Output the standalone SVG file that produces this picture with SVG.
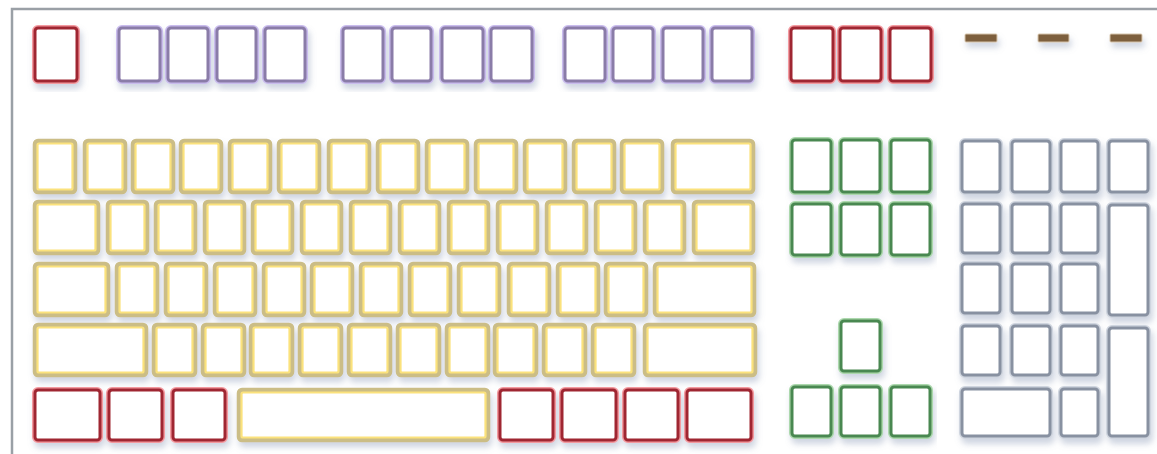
<svg xmlns="http://www.w3.org/2000/svg" width="1157" height="454" viewBox="0 0 1157 454">
<defs>
<filter id="sh" x="-5%" y="-10%" width="110%" height="130%">
<feDropShadow dx="2" dy="5" stdDeviation="3" flood-color="#7f8fb0" flood-opacity="0.38"/>
</filter>
<style>
rect{fill:#fff;rx:3px}
.o{fill:none}
.red .o{stroke:#f39aa0;stroke-width:6}
.red .i{stroke:#9f2630;stroke-width:3;fill:#fff}
.pur .o{stroke:#c9bced;stroke-width:6}
.pur .i{stroke:#8a7ba8;stroke-width:3;fill:#fff}
.grn .o{stroke:#acd8ad;stroke-width:6}
.grn .i{stroke:#4a8851;stroke-width:3;fill:#fff}
.gry .o{stroke:#cfd5df;stroke-width:6}
.gry .i{stroke:#8891a1;stroke-width:3;fill:#fff}
.yel .o{stroke:#cbbd86;stroke-width:4.5;fill:#fff}
.yel .i{stroke:#fbe27c;stroke-width:2.2;fill:none;rx:1.5px}
.dash{fill:#7d5e3d;stroke:#d8c6ac;stroke-width:1;rx:1px}
</style>
</defs>
<rect x="0" y="0" width="1157" height="454" style="fill:#fff;rx:0"/>
<path d="M12,454 V9 H1157" fill="none" stroke="#9aa0a6" stroke-width="2.5"/>

<g id="top-row" filter="url(#sh)">
<g id="k-esc" class="red"><rect class="o" x="35" y="28" width="42" height="53"/><rect class="i" x="35" y="28" width="42" height="53"/></g>
<g id="k-f1" class="pur"><rect class="o" x="119" y="28" width="41" height="53"/><rect class="i" x="119" y="28" width="41" height="53"/></g>
<g id="k-f2" class="pur"><rect class="o" x="168" y="28" width="40" height="53"/><rect class="i" x="168" y="28" width="40" height="53"/></g>
<g id="k-f3" class="pur"><rect class="o" x="217" y="28" width="39" height="53"/><rect class="i" x="217" y="28" width="39" height="53"/></g>
<g id="k-f4" class="pur"><rect class="o" x="265" y="28" width="40" height="53"/><rect class="i" x="265" y="28" width="40" height="53"/></g>
<g id="k-f5" class="pur"><rect class="o" x="343" y="28" width="40" height="53"/><rect class="i" x="343" y="28" width="40" height="53"/></g>
<g id="k-f6" class="pur"><rect class="o" x="392" y="28" width="39" height="53"/><rect class="i" x="392" y="28" width="39" height="53"/></g>
<g id="k-f7" class="pur"><rect class="o" x="442" y="28" width="41" height="53"/><rect class="i" x="442" y="28" width="41" height="53"/></g>
<g id="k-f8" class="pur"><rect class="o" x="491" y="28" width="41" height="53"/><rect class="i" x="491" y="28" width="41" height="53"/></g>
<g id="k-f9" class="pur"><rect class="o" x="565" y="28" width="40" height="53"/><rect class="i" x="565" y="28" width="40" height="53"/></g>
<g id="k-f10" class="pur"><rect class="o" x="613" y="28" width="40" height="53"/><rect class="i" x="613" y="28" width="40" height="53"/></g>
<g id="k-f11" class="pur"><rect class="o" x="663" y="28" width="40" height="53"/><rect class="i" x="663" y="28" width="40" height="53"/></g>
<g id="k-f12" class="pur"><rect class="o" x="712" y="28" width="40" height="53"/><rect class="i" x="712" y="28" width="40" height="53"/></g>
<g id="k-prtsc" class="red"><rect class="o" x="791" y="28" width="42" height="53"/><rect class="i" x="791" y="28" width="42" height="53"/></g>
<g id="k-scroll" class="red"><rect class="o" x="840" y="28" width="41" height="53"/><rect class="i" x="840" y="28" width="41" height="53"/></g>
<g id="k-pause" class="red"><rect class="o" x="890" y="28" width="41" height="53"/><rect class="i" x="890" y="28" width="41" height="53"/></g>
<g id="led-1"><rect class="dash" x="965" y="34" width="32" height="8"/></g>
<g id="led-2"><rect class="dash" x="1038" y="34" width="31" height="8"/></g>
<g id="led-3"><rect class="dash" x="1110" y="34" width="32" height="8"/></g>
</g>

<g id="typing" filter="url(#sh)">
<g id="k-r1-1" class="yel"><rect class="o" x="35" y="141" width="40" height="51"/><rect class="i" x="37.5" y="143.5" width="35" height="46"/></g>
<g id="k-r1-2" class="yel"><rect class="o" x="85" y="141" width="40" height="51"/><rect class="i" x="87.5" y="143.5" width="35" height="46"/></g>
<g id="k-r1-3" class="yel"><rect class="o" x="133" y="141" width="40" height="51"/><rect class="i" x="135.5" y="143.5" width="35" height="46"/></g>
<g id="k-r1-4" class="yel"><rect class="o" x="181" y="141" width="40" height="51"/><rect class="i" x="183.5" y="143.5" width="35" height="46"/></g>
<g id="k-r1-5" class="yel"><rect class="o" x="230" y="141" width="40" height="51"/><rect class="i" x="232.5" y="143.5" width="35" height="46"/></g>
<g id="k-r1-6" class="yel"><rect class="o" x="279" y="141" width="40" height="51"/><rect class="i" x="281.5" y="143.5" width="35" height="46"/></g>
<g id="k-r1-7" class="yel"><rect class="o" x="329" y="141" width="40" height="51"/><rect class="i" x="331.5" y="143.5" width="35" height="46"/></g>
<g id="k-r1-8" class="yel"><rect class="o" x="378" y="141" width="40" height="51"/><rect class="i" x="380.5" y="143.5" width="35" height="46"/></g>
<g id="k-r1-9" class="yel"><rect class="o" x="427" y="141" width="40" height="51"/><rect class="i" x="429.5" y="143.5" width="35" height="46"/></g>
<g id="k-r1-10" class="yel"><rect class="o" x="476" y="141" width="40" height="51"/><rect class="i" x="478.5" y="143.5" width="35" height="46"/></g>
<g id="k-r1-11" class="yel"><rect class="o" x="525" y="141" width="40" height="51"/><rect class="i" x="527.5" y="143.5" width="35" height="46"/></g>
<g id="k-r1-12" class="yel"><rect class="o" x="574" y="141" width="40" height="51"/><rect class="i" x="576.5" y="143.5" width="35" height="46"/></g>
<g id="k-r1-13" class="yel"><rect class="o" x="622" y="141" width="40" height="51"/><rect class="i" x="624.5" y="143.5" width="35" height="46"/></g>
<g id="k-backspace" class="yel"><rect class="o" x="673" y="141" width="80" height="51"/><rect class="i" x="675.5" y="143.5" width="75" height="46"/></g>
<g id="k-tab" class="yel"><rect class="o" x="35" y="202" width="63" height="51"/><rect class="i" x="37.5" y="204.5" width="58" height="46"/></g>
<g id="k-r2-1" class="yel"><rect class="o" x="108" y="202" width="39" height="51"/><rect class="i" x="110.5" y="204.5" width="34" height="46"/></g>
<g id="k-r2-2" class="yel"><rect class="o" x="156" y="202" width="39" height="51"/><rect class="i" x="158.5" y="204.5" width="34" height="46"/></g>
<g id="k-r2-3" class="yel"><rect class="o" x="205" y="202" width="39" height="51"/><rect class="i" x="207.5" y="204.5" width="34" height="46"/></g>
<g id="k-r2-4" class="yel"><rect class="o" x="253" y="202" width="39" height="51"/><rect class="i" x="255.5" y="204.5" width="34" height="46"/></g>
<g id="k-r2-5" class="yel"><rect class="o" x="302" y="202" width="39" height="51"/><rect class="i" x="304.5" y="204.5" width="34" height="46"/></g>
<g id="k-r2-6" class="yel"><rect class="o" x="351" y="202" width="39" height="51"/><rect class="i" x="353.5" y="204.5" width="34" height="46"/></g>
<g id="k-r2-7" class="yel"><rect class="o" x="400" y="202" width="39" height="51"/><rect class="i" x="402.5" y="204.5" width="34" height="46"/></g>
<g id="k-r2-8" class="yel"><rect class="o" x="449" y="202" width="39" height="51"/><rect class="i" x="451.5" y="204.5" width="34" height="46"/></g>
<g id="k-r2-9" class="yel"><rect class="o" x="498" y="202" width="39" height="51"/><rect class="i" x="500.5" y="204.5" width="34" height="46"/></g>
<g id="k-r2-10" class="yel"><rect class="o" x="547" y="202" width="39" height="51"/><rect class="i" x="549.5" y="204.5" width="34" height="46"/></g>
<g id="k-r2-11" class="yel"><rect class="o" x="596" y="202" width="39" height="51"/><rect class="i" x="598.5" y="204.5" width="34" height="46"/></g>
<g id="k-r2-12" class="yel"><rect class="o" x="645" y="202" width="39" height="51"/><rect class="i" x="647.5" y="204.5" width="34" height="46"/></g>
<g id="k-backslash" class="yel"><rect class="o" x="694" y="202" width="59" height="51"/><rect class="i" x="696.5" y="204.5" width="54" height="46"/></g>
<g id="k-caps" class="yel"><rect class="o" x="35" y="264" width="73" height="51"/><rect class="i" x="37.5" y="266.5" width="68" height="46"/></g>
<g id="k-r3-1" class="yel"><rect class="o" x="117" y="264" width="40" height="51"/><rect class="i" x="119.5" y="266.5" width="35" height="46"/></g>
<g id="k-r3-2" class="yel"><rect class="o" x="166" y="264" width="40" height="51"/><rect class="i" x="168.5" y="266.5" width="35" height="46"/></g>
<g id="k-r3-3" class="yel"><rect class="o" x="215" y="264" width="40" height="51"/><rect class="i" x="217.5" y="266.5" width="35" height="46"/></g>
<g id="k-r3-4" class="yel"><rect class="o" x="264" y="264" width="40" height="51"/><rect class="i" x="266.5" y="266.5" width="35" height="46"/></g>
<g id="k-r3-5" class="yel"><rect class="o" x="312" y="264" width="40" height="51"/><rect class="i" x="314.5" y="266.5" width="35" height="46"/></g>
<g id="k-r3-6" class="yel"><rect class="o" x="361" y="264" width="40" height="51"/><rect class="i" x="363.5" y="266.5" width="35" height="46"/></g>
<g id="k-r3-7" class="yel"><rect class="o" x="410" y="264" width="40" height="51"/><rect class="i" x="412.5" y="266.5" width="35" height="46"/></g>
<g id="k-r3-8" class="yel"><rect class="o" x="459" y="264" width="40" height="51"/><rect class="i" x="461.5" y="266.5" width="35" height="46"/></g>
<g id="k-r3-9" class="yel"><rect class="o" x="509" y="264" width="40" height="51"/><rect class="i" x="511.5" y="266.5" width="35" height="46"/></g>
<g id="k-r3-10" class="yel"><rect class="o" x="558" y="264" width="40" height="51"/><rect class="i" x="560.5" y="266.5" width="35" height="46"/></g>
<g id="k-r3-11" class="yel"><rect class="o" x="606" y="264" width="40" height="51"/><rect class="i" x="608.5" y="266.5" width="35" height="46"/></g>
<g id="k-enter" class="yel"><rect class="o" x="655" y="264" width="99" height="51"/><rect class="i" x="657.5" y="266.5" width="94" height="46"/></g>
<g id="k-lshift" class="yel"><rect class="o" x="35" y="325" width="111" height="50"/><rect class="i" x="37.5" y="327.5" width="106" height="45"/></g>
<g id="k-r4-1" class="yel"><rect class="o" x="154" y="325" width="41" height="50"/><rect class="i" x="156.5" y="327.5" width="36" height="45"/></g>
<g id="k-r4-2" class="yel"><rect class="o" x="203" y="325" width="41" height="50"/><rect class="i" x="205.5" y="327.5" width="36" height="45"/></g>
<g id="k-r4-3" class="yel"><rect class="o" x="251" y="325" width="41" height="50"/><rect class="i" x="253.5" y="327.5" width="36" height="45"/></g>
<g id="k-r4-4" class="yel"><rect class="o" x="300" y="325" width="41" height="50"/><rect class="i" x="302.5" y="327.5" width="36" height="45"/></g>
<g id="k-r4-5" class="yel"><rect class="o" x="349" y="325" width="41" height="50"/><rect class="i" x="351.5" y="327.5" width="36" height="45"/></g>
<g id="k-r4-6" class="yel"><rect class="o" x="398" y="325" width="41" height="50"/><rect class="i" x="400.5" y="327.5" width="36" height="45"/></g>
<g id="k-r4-7" class="yel"><rect class="o" x="447" y="325" width="41" height="50"/><rect class="i" x="449.5" y="327.5" width="36" height="45"/></g>
<g id="k-r4-8" class="yel"><rect class="o" x="495" y="325" width="41" height="50"/><rect class="i" x="497.5" y="327.5" width="36" height="45"/></g>
<g id="k-r4-9" class="yel"><rect class="o" x="544" y="325" width="41" height="50"/><rect class="i" x="546.5" y="327.5" width="36" height="45"/></g>
<g id="k-r4-10" class="yel"><rect class="o" x="593" y="325" width="41" height="50"/><rect class="i" x="595.5" y="327.5" width="36" height="45"/></g>
<g id="k-rshift" class="yel"><rect class="o" x="645" y="325" width="110" height="50"/><rect class="i" x="647.5" y="327.5" width="105" height="45"/></g>
<g id="k-lctrl" class="red"><rect class="o" x="35" y="390" width="65" height="50"/><rect class="i" x="35" y="390" width="65" height="50"/></g>
<g id="k-lwin" class="red"><rect class="o" x="109" y="390" width="53" height="50"/><rect class="i" x="109" y="390" width="53" height="50"/></g>
<g id="k-lalt" class="red"><rect class="o" x="173" y="390" width="52" height="50"/><rect class="i" x="173" y="390" width="52" height="50"/></g>
<g id="k-space" class="yel"><rect class="o" x="239" y="390" width="249" height="50"/><rect class="i" x="241.5" y="392.5" width="244" height="45"/></g>
<g id="k-ralt" class="red"><rect class="o" x="500" y="390" width="53" height="50"/><rect class="i" x="500" y="390" width="53" height="50"/></g>
<g id="k-rwin" class="red"><rect class="o" x="562" y="390" width="54" height="50"/><rect class="i" x="562" y="390" width="54" height="50"/></g>
<g id="k-menu" class="red"><rect class="o" x="625" y="390" width="53" height="50"/><rect class="i" x="625" y="390" width="53" height="50"/></g>
<g id="k-rctrl" class="red"><rect class="o" x="687" y="390" width="64" height="50"/><rect class="i" x="687" y="390" width="64" height="50"/></g>
</g>

<g id="nav" filter="url(#sh)">
<g id="k-ins" class="grn"><rect class="o" x="792" y="140" width="39" height="52"/><rect class="i" x="792" y="140" width="39" height="52"/></g>
<g id="k-home" class="grn"><rect class="o" x="841" y="140" width="39" height="52"/><rect class="i" x="841" y="140" width="39" height="52"/></g>
<g id="k-pgup" class="grn"><rect class="o" x="891" y="140" width="39" height="52"/><rect class="i" x="891" y="140" width="39" height="52"/></g>
<g id="k-del" class="grn"><rect class="o" x="792" y="204" width="39" height="51"/><rect class="i" x="792" y="204" width="39" height="51"/></g>
<g id="k-end" class="grn"><rect class="o" x="841" y="204" width="39" height="51"/><rect class="i" x="841" y="204" width="39" height="51"/></g>
<g id="k-pgdn" class="grn"><rect class="o" x="891" y="204" width="39" height="51"/><rect class="i" x="891" y="204" width="39" height="51"/></g>
<g id="k-up" class="grn"><rect class="o" x="841" y="321" width="39" height="50"/><rect class="i" x="841" y="321" width="39" height="50"/></g>
<g id="k-left" class="grn"><rect class="o" x="792" y="387" width="39" height="49"/><rect class="i" x="792" y="387" width="39" height="49"/></g>
<g id="k-down" class="grn"><rect class="o" x="841" y="387" width="39" height="49"/><rect class="i" x="841" y="387" width="39" height="49"/></g>
<g id="k-right" class="grn"><rect class="o" x="891" y="387" width="39" height="49"/><rect class="i" x="891" y="387" width="39" height="49"/></g>
</g>

<g id="numpad" filter="url(#sh)">
<g id="k-numlock" class="gry"><rect class="o" x="962" y="141" width="38" height="51"/><rect class="i" x="962" y="141" width="38" height="51"/></g>
<g id="k-div" class="gry"><rect class="o" x="1012" y="141" width="38" height="51"/><rect class="i" x="1012" y="141" width="38" height="51"/></g>
<g id="k-mul" class="gry"><rect class="o" x="1061" y="141" width="37" height="51"/><rect class="i" x="1061" y="141" width="37" height="51"/></g>
<g id="k-minus" class="gry"><rect class="o" x="1109" y="141" width="39" height="51"/><rect class="i" x="1109" y="141" width="39" height="51"/></g>
<g id="k-n7" class="gry"><rect class="o" x="962" y="204" width="38" height="49"/><rect class="i" x="962" y="204" width="38" height="49"/></g>
<g id="k-n8" class="gry"><rect class="o" x="1012" y="204" width="38" height="49"/><rect class="i" x="1012" y="204" width="38" height="49"/></g>
<g id="k-n9" class="gry"><rect class="o" x="1061" y="204" width="37" height="49"/><rect class="i" x="1061" y="204" width="37" height="49"/></g>
<g id="k-plus" class="gry"><rect class="o" x="1109" y="205" width="39" height="110"/><rect class="i" x="1109" y="205" width="39" height="110"/></g>
<g id="k-n4" class="gry"><rect class="o" x="962" y="264" width="38" height="49"/><rect class="i" x="962" y="264" width="38" height="49"/></g>
<g id="k-n5" class="gry"><rect class="o" x="1012" y="264" width="38" height="49"/><rect class="i" x="1012" y="264" width="38" height="49"/></g>
<g id="k-n6" class="gry"><rect class="o" x="1061" y="264" width="37" height="49"/><rect class="i" x="1061" y="264" width="37" height="49"/></g>
<g id="k-n1" class="gry"><rect class="o" x="962" y="326" width="38" height="49"/><rect class="i" x="962" y="326" width="38" height="49"/></g>
<g id="k-n2" class="gry"><rect class="o" x="1012" y="326" width="38" height="49"/><rect class="i" x="1012" y="326" width="38" height="49"/></g>
<g id="k-n3" class="gry"><rect class="o" x="1061" y="326" width="37" height="49"/><rect class="i" x="1061" y="326" width="37" height="49"/></g>
<g id="k-nenter" class="gry"><rect class="o" x="1109" y="328" width="39" height="108"/><rect class="i" x="1109" y="328" width="39" height="108"/></g>
<g id="k-n0" class="gry"><rect class="o" x="962" y="389" width="88" height="47"/><rect class="i" x="962" y="389" width="88" height="47"/></g>
<g id="k-ndot" class="gry"><rect class="o" x="1061" y="389" width="37" height="47"/><rect class="i" x="1061" y="389" width="37" height="47"/></g>
</g>
</svg>
